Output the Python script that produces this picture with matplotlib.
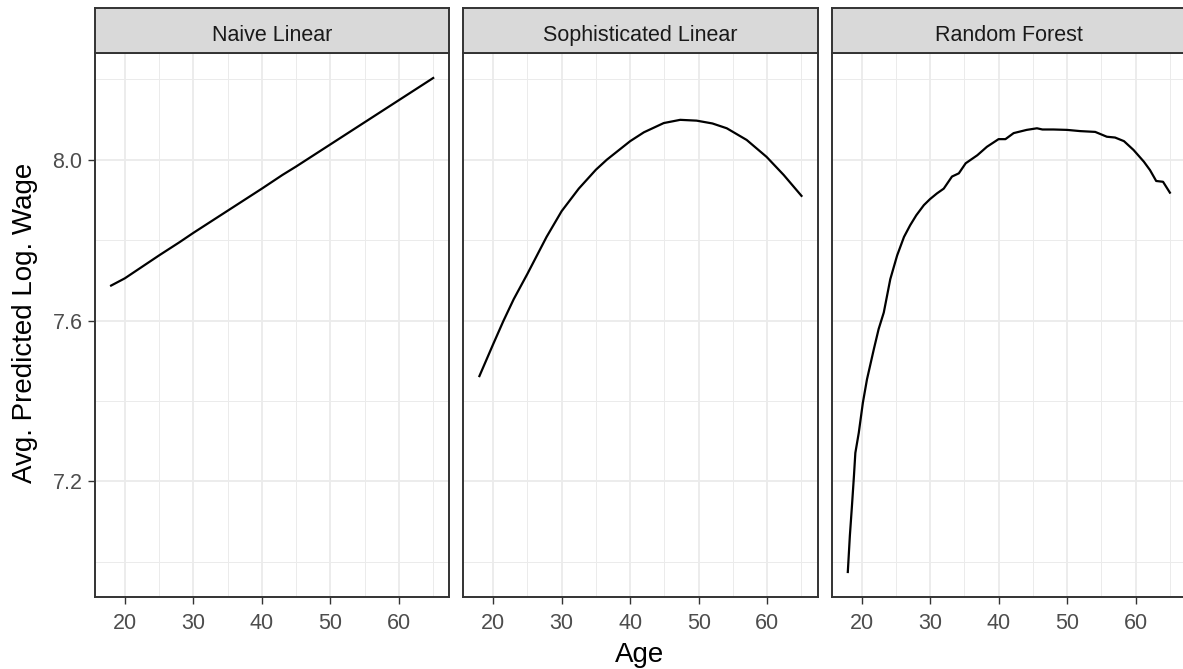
import matplotlib
matplotlib.use("Agg")
import matplotlib.pyplot as plt
from matplotlib.ticker import MultipleLocator

plt.rcParams['font.family'] = ['Liberation Sans', 'DejaVu Sans']

# ---------------- data ----------------
panel_titles = ["Naive Linear", "Sophisticated Linear", "Random Forest"]

naive_age = [18, 20, 25, 28, 30, 35, 40, 43, 45, 50, 55, 60, 65]
naive_val = [7.687, 7.705, 7.762, 7.795, 7.818, 7.873, 7.928, 7.962, 7.983, 8.038, 8.093, 8.148, 8.203]

soph_age = [18, 20, 21.5, 23, 25, 27.8, 30, 32.5, 35, 36.6, 40, 42, 44.9, 47.3,
            49.7, 52, 54.1, 57, 59.9, 62.4, 65]
soph_val = [7.462, 7.541, 7.599, 7.653, 7.716, 7.808, 7.872, 7.928, 7.975, 8.000,
            8.046, 8.068, 8.091, 8.099, 8.097, 8.090, 8.078, 8.049, 8.007, 7.962,
            7.910]

rf_age = [18, 18.3, 18.6, 18.9, 19.1, 19.6, 20.2, 20.8, 21.8, 22.5, 23.25, 24.2,
          25.2, 26.2, 27.1, 28, 29.1, 30, 31, 32, 33.2, 34.2, 35.2, 36.9, 38.3,
          40, 41, 42.2, 44.1, 45.6, 46.4, 48, 50, 51.9, 54.1, 55.8, 57, 58.3,
          59.7, 61.2, 62.1, 63, 64, 65]
rf_val = [6.975, 7.065, 7.138, 7.215, 7.271, 7.321, 7.396, 7.454, 7.529, 7.579,
          7.620, 7.703, 7.762, 7.808, 7.837, 7.862, 7.887, 7.902, 7.916, 7.928,
          7.958, 7.966, 7.991, 8.011, 8.032, 8.051, 8.051, 8.066, 8.074, 8.078,
          8.075, 8.075, 8.074, 8.071, 8.069, 8.057, 8.055, 8.046, 8.024, 7.995,
          7.974, 7.947, 7.945, 7.918]

series = [(naive_age, naive_val), (soph_age, soph_val), (rf_age, rf_val)]

x_ticks = [20, 30, 40, 50, 60]
y_ticks = [7.2, 7.6, 8.0]

# ---------------- layout ----------------
W, H = 1183, 669
fig = plt.figure(figsize=(W / 100, H / 100), dpi=100)


def rect(x0, y0, x1, y1):
    return [x0 / W, 1 - y1 / H, (x1 - x0) / W, (y1 - y0) / H]


panel_x = [(95.0, 449.3), (463.3, 817.6), (831.7, 1186.0)]
plot_y = (53.3, 596.7)
strip_y = (8.3, 53.3)

all_x = naive_age + soph_age + rf_age
all_y = naive_val + soph_val + rf_val
xmin, xmax = min(all_x), max(all_x)
ymin, ymax = min(all_y), max(all_y)
xpad = 0.05 * (xmax - xmin)
ypad = 0.05 * (ymax - ymin)

border = "#333333"
grid_c = "#EBEBEB"

for i, ((x0, x1), title, (ages, vals)) in enumerate(zip(panel_x, panel_titles, series)):
    ax = fig.add_axes(rect(x0, plot_y[0], x1, plot_y[1]))
    ax.set_xlim(xmin - xpad, xmax + xpad)
    ax.set_ylim(ymin - ypad, ymax + ypad)
    ax.set_xticks(x_ticks)
    ax.set_yticks(y_ticks)
    ax.xaxis.set_minor_locator(MultipleLocator(5))
    ax.yaxis.set_minor_locator(MultipleLocator(0.2))
    ax.grid(True, which="major", color=grid_c, lw=1.3, zorder=0)
    ax.grid(True, which="minor", color=grid_c, lw=0.7, zorder=0)
    ax.set_axisbelow(True)
    ax.plot(ages, vals, color="black", lw=1.6, zorder=3)
    for s in ax.spines.values():
        s.set_color(border)
        s.set_linewidth(1.4)
    ax.tick_params(which="minor", length=0)
    ax.tick_params(which="major", length=5, width=1.0, color=border,
                   labelsize=15.5, labelcolor="#4D4D4D", pad=4)
    ax.tick_params(axis="x", pad=7)
    ax.set_xticklabels([str(t) for t in x_ticks])
    if i == 0:
        ax.set_yticklabels([f"{t:.1f}" for t in y_ticks])
    else:
        ax.tick_params(axis="y", which="both", left=False, labelleft=False)

    sax = fig.add_axes(rect(x0, strip_y[0], x1, strip_y[1]))
    sax.set_facecolor("#D9D9D9")
    sax.set_xticks([])
    sax.set_yticks([])
    for s in sax.spines.values():
        s.set_color(border)
        s.set_linewidth(1.4)
    sax.text(0.5, 0.28, title, ha="center", va="baseline", fontsize=15.5,
             color="#1A1A1A", transform=sax.transAxes)

fig.text(640 / W, 1 - 655 / H, "Age", ha="center", va="center", fontsize=20,
         color="black")
fig.text(25 / W, 1 - 323 / H, "Avg. Predicted Log. Wage", ha="center",
         va="center", rotation=90, fontsize=20, color="black")

fig.savefig("out.png", dpi=100)
